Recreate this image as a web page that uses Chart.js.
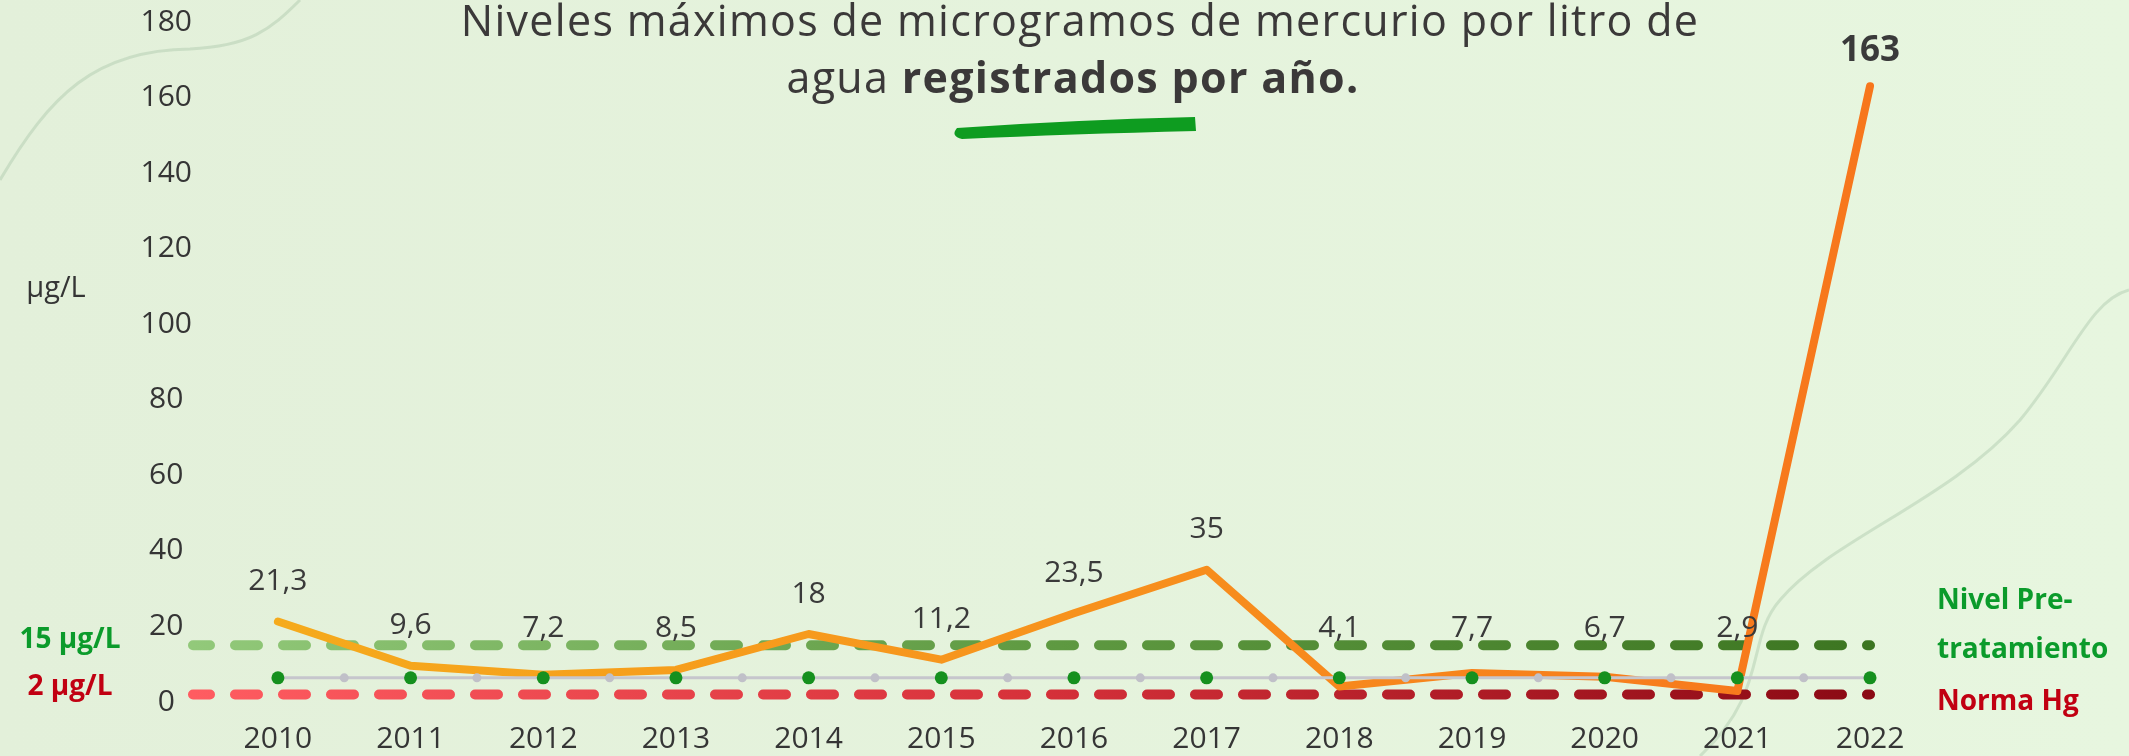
<!DOCTYPE html>
<html lang="es">
<head>
<meta charset="utf-8">
<title>Niveles máximos de mercurio</title>
<script src="https://cdn.jsdelivr.net/npm/chart.js@4.4.1/dist/chart.umd.min.js"></script>
<style>
  html, body { margin: 0; padding: 0; background: #e6f4dd; }
  #wrap { width: 2129px; height: 756px; }
</style>
</head>
<body>
<div id="wrap"><canvas id="grafico" width="2129" height="756"></canvas></div>
<script>
// años y máximos registrados (µg/L)
const anios = [2010, 2011, 2012, 2013, 2014, 2015, 2016, 2017, 2018, 2019, 2020, 2021, 2022];
const maximos = [21.3, 9.6, 7.2, 8.5, 18, 11.2, 23.5, 35, 4.1, 7.7, 6.7, 2.9, 163];
const ticksY = [0, 20, 40, 60, 80, 100, 120, 140, 160, 180];

// niveles de referencia
const nivelPretratamiento = 15;
const normaHg = 2;
const lineaBase = 6.4;

const FUENTE = 'Open Sans';
const xMin = 2009.36, xMax = 2022.045;

function degradado(ctx, colores) {
  const area = ctx.chart.chartArea;
  if (!area) return colores[0];
  const g = ctx.chart.ctx.createLinearGradient(area.left, 0, area.right, 0);
  colores.forEach((c, i) => g.addColorStop(i / (colores.length - 1), c));
  return g;
}

function coma(v) {
  return String(v).replace('.', ',');
}

// puntos de la línea base: año y medio año
const puntosBase = [];
anios.forEach((a, i) => {
  puntosBase.push({ x: a, y: lineaBase });
  if (i < anios.length - 1) puntosBase.push({ x: a + 0.5, y: lineaBase });
});

const fondo = {
  id: 'fondo',
  beforeDraw(chart) {
    const c = chart.ctx;
    c.save();
    const g = c.createLinearGradient(0, 0, chart.width, 0);
    g.addColorStop(0, '#e3f0da');
    g.addColorStop(1, '#e7f6df');
    c.fillStyle = g;
    c.fillRect(0, 0, chart.width, chart.height);
    c.strokeStyle = 'rgba(165,195,165,0.4)';
    c.lineWidth = 3;
    c.beginPath();
    c.moveTo(0, 180);
    c.bezierCurveTo(50, 95, 95, 50, 190, 49);
    c.bezierCurveTo(250, 46, 270, 30, 300, 0);
    c.stroke();
    c.beginPath();
    c.moveTo(1700, 756);
    c.bezierCurveTo(1770, 690, 1745, 640, 1780, 600);
    c.bezierCurveTo(1830, 540, 1950, 500, 2020, 420);
    c.bezierCurveTo(2070, 360, 2090, 300, 2129, 290);
    c.stroke();
    c.restore();
  }
};

const rotulos = {
  id: 'rotulos',
  afterDatasetsDraw(chart) {
    const c = chart.ctx;
    const y = chart.scales.y;
    const meta = chart.getDatasetMeta(0);
    const piso = y.getPixelForValue(19.4);
    c.save();
    c.textAlign = 'center';
    c.textBaseline = 'middle';
    meta.data.forEach((pt, i) => {
      const ultimo = i === maximos.length - 1;
      c.font = (ultimo ? 'bold 35px ' : '30px ') + FUENTE;
      c.fillStyle = '#3a3a3a';
      c.fillText(coma(maximos[i]), pt.x, Math.min(pt.y - (ultimo ? 35 : 40), piso));
    });
    c.restore();
  },
  afterDraw(chart) {
    const c = chart.ctx;
    const y = chart.scales.y;
    const area = chart.chartArea;
    c.save();

    // título
    c.fillStyle = '#3b3939';
    c.textBaseline = 'alphabetic';
    c.textAlign = 'left';
    c.letterSpacing = '1.3px';
    c.font = '43px ' + FUENTE;
    const linea1 = 'Niveles máximos de microgramos de mercurio por litro de';
    const w1 = c.measureText(linea1).width;
    c.fillText(linea1, 1080 - w1 / 2, 36);
    const parteA = 'agua ', parteB = 'registrados por año.';
    const wA = c.measureText(parteA).width;
    c.font = 'bold 43px ' + FUENTE;
    const wB = c.measureText(parteB).width;
    const x0 = 1073 - (wA + wB) / 2;
    c.font = '43px ' + FUENTE;
    c.fillText(parteA, x0, 93);
    c.font = 'bold 43px ' + FUENTE;
    c.fillText(parteB, x0 + wA, 93);
    c.letterSpacing = '0px';

    // trazo verde bajo el título
    c.fillStyle = '#0e9c20';
    c.beginPath();
    c.moveTo(957, 128);
    c.quadraticCurveTo(1070, 120, 1195, 117);
    c.lineTo(1196, 131);
    c.quadraticCurveTo(1070, 134, 962, 139);
    c.quadraticCurveTo(950, 136, 957, 128);
    c.fill();

    // unidad del eje
    c.textAlign = 'center';
    c.textBaseline = 'middle';
    c.fillStyle = '#353535';
    c.font = '29px ' + FUENTE;
    c.fillText('µg/L', 56, 289);

    // valores de referencia a la izquierda
    const yPre = y.getPixelForValue(nivelPretratamiento);
    const yNorma = y.getPixelForValue(normaHg);
    c.font = 'bold 28px ' + FUENTE;
    c.fillStyle = '#0b9b2b';
    c.fillText(nivelPretratamiento + ' µg/L', 70, yPre - 5);
    c.fillStyle = '#c10012';
    c.fillText(normaHg + ' µg/L', 70, yNorma - 7);

    // nombres de las referencias a la derecha
    c.textAlign = 'left';
    c.font = 'bold 28px ' + FUENTE;
    c.fillStyle = '#0b9b2b';
    c.fillText('Nivel Pre-', area.right + 61, yPre - 44);
    c.fillText('tratamiento', area.right + 61, yPre + 5);
    c.fillStyle = '#c10012';
    c.fillText('Norma Hg', area.right + 61, yNorma + 8);
    c.restore();
  }
};

const ctx = document.getElementById('grafico').getContext('2d');
const chart = new Chart(ctx, {
  type: 'line',
  data: {
    datasets: [{
      label: 'Máximo anual',
      data: anios.map((a, i) => ({ x: a, y: maximos[i] })),
      borderColor: c => degradado(c, ['#f5ad1c', '#f7931d', '#f7761c']),
      borderWidth: 8,
      borderJoinStyle: 'round',
      borderCapStyle: 'round',
      pointRadius: 0,
      tension: 0,
      clip: false,
      order: 1
    }, {
      label: 'Base',
      data: puntosBase,
      borderColor: '#c6c6cc',
      borderWidth: 3,
      pointRadius: c => (c.dataIndex % 2 === 0 ? 6.5 : 4.5),
      pointBackgroundColor: c => (c.dataIndex % 2 === 0 ? '#15901e' : '#c0c0c8'),
      pointBorderWidth: 0,
      clip: false,
      order: 0
    }, {
      label: 'Nivel Pre-tratamiento',
      data: [{ x: xMin, y: nivelPretratamiento }, { x: anios[anios.length - 1], y: nivelPretratamiento }],
      borderColor: c => degradado(c, ['#92c97a', '#5f9a42', '#3c7521']),
      borderWidth: 10,
      borderDash: [23, 25],
      borderDashOffset: 6,
      borderCapStyle: 'round',
      pointRadius: 0,
      clip: false,
      order: 2
    }, {
      label: 'Norma Hg',
      data: [{ x: xMin, y: normaHg }, { x: anios[anios.length - 1], y: normaHg }],
      borderColor: c => degradado(c, ['#ff5c61', '#d6313a', '#8a0914']),
      borderWidth: 10,
      borderDash: [23, 25],
      borderDashOffset: 6,
      borderCapStyle: 'round',
      pointRadius: 0,
      clip: false,
      order: 2
    }]
  },
  options: {
    responsive: false,
    animation: false,
    devicePixelRatio: 1,
    layout: { padding: { top: 22, right: 253, left: 0, bottom: 0 } },
    plugins: {
      legend: { display: false },
      tooltip: { enabled: false }
    },
    scales: {
      x: {
        type: 'linear',
        min: xMin,
        max: xMax,
        afterBuildTicks: ax => { ax.ticks = anios.map(v => ({ value: v })); },
        afterFit: ax => { ax.height = 54; },
        grid: { display: false, drawTicks: false },
        border: { display: false },
        ticks: {
          callback: v => String(v),
          padding: 22,
          maxRotation: 0,
          autoSkip: false,
          color: '#353535',
          font: { family: FUENTE, size: 30, lineHeight: 1 }
        }
      },
      y: {
        min: 0,
        max: 180,
        afterBuildTicks: ax => { ax.ticks = ticksY.map(v => ({ value: v })); },
        afterFit: ax => { ax.width = 193; },
        grid: { display: false, drawTicks: false },
        border: { display: false },
        ticks: {
          crossAlign: 'center',
          padding: 1,
          color: '#353535',
          font: { family: FUENTE, size: 30, lineHeight: 1 }
        }
      }
    }
  },
  plugins: [fondo, rotulos]
});
</script>
</body>
</html>
